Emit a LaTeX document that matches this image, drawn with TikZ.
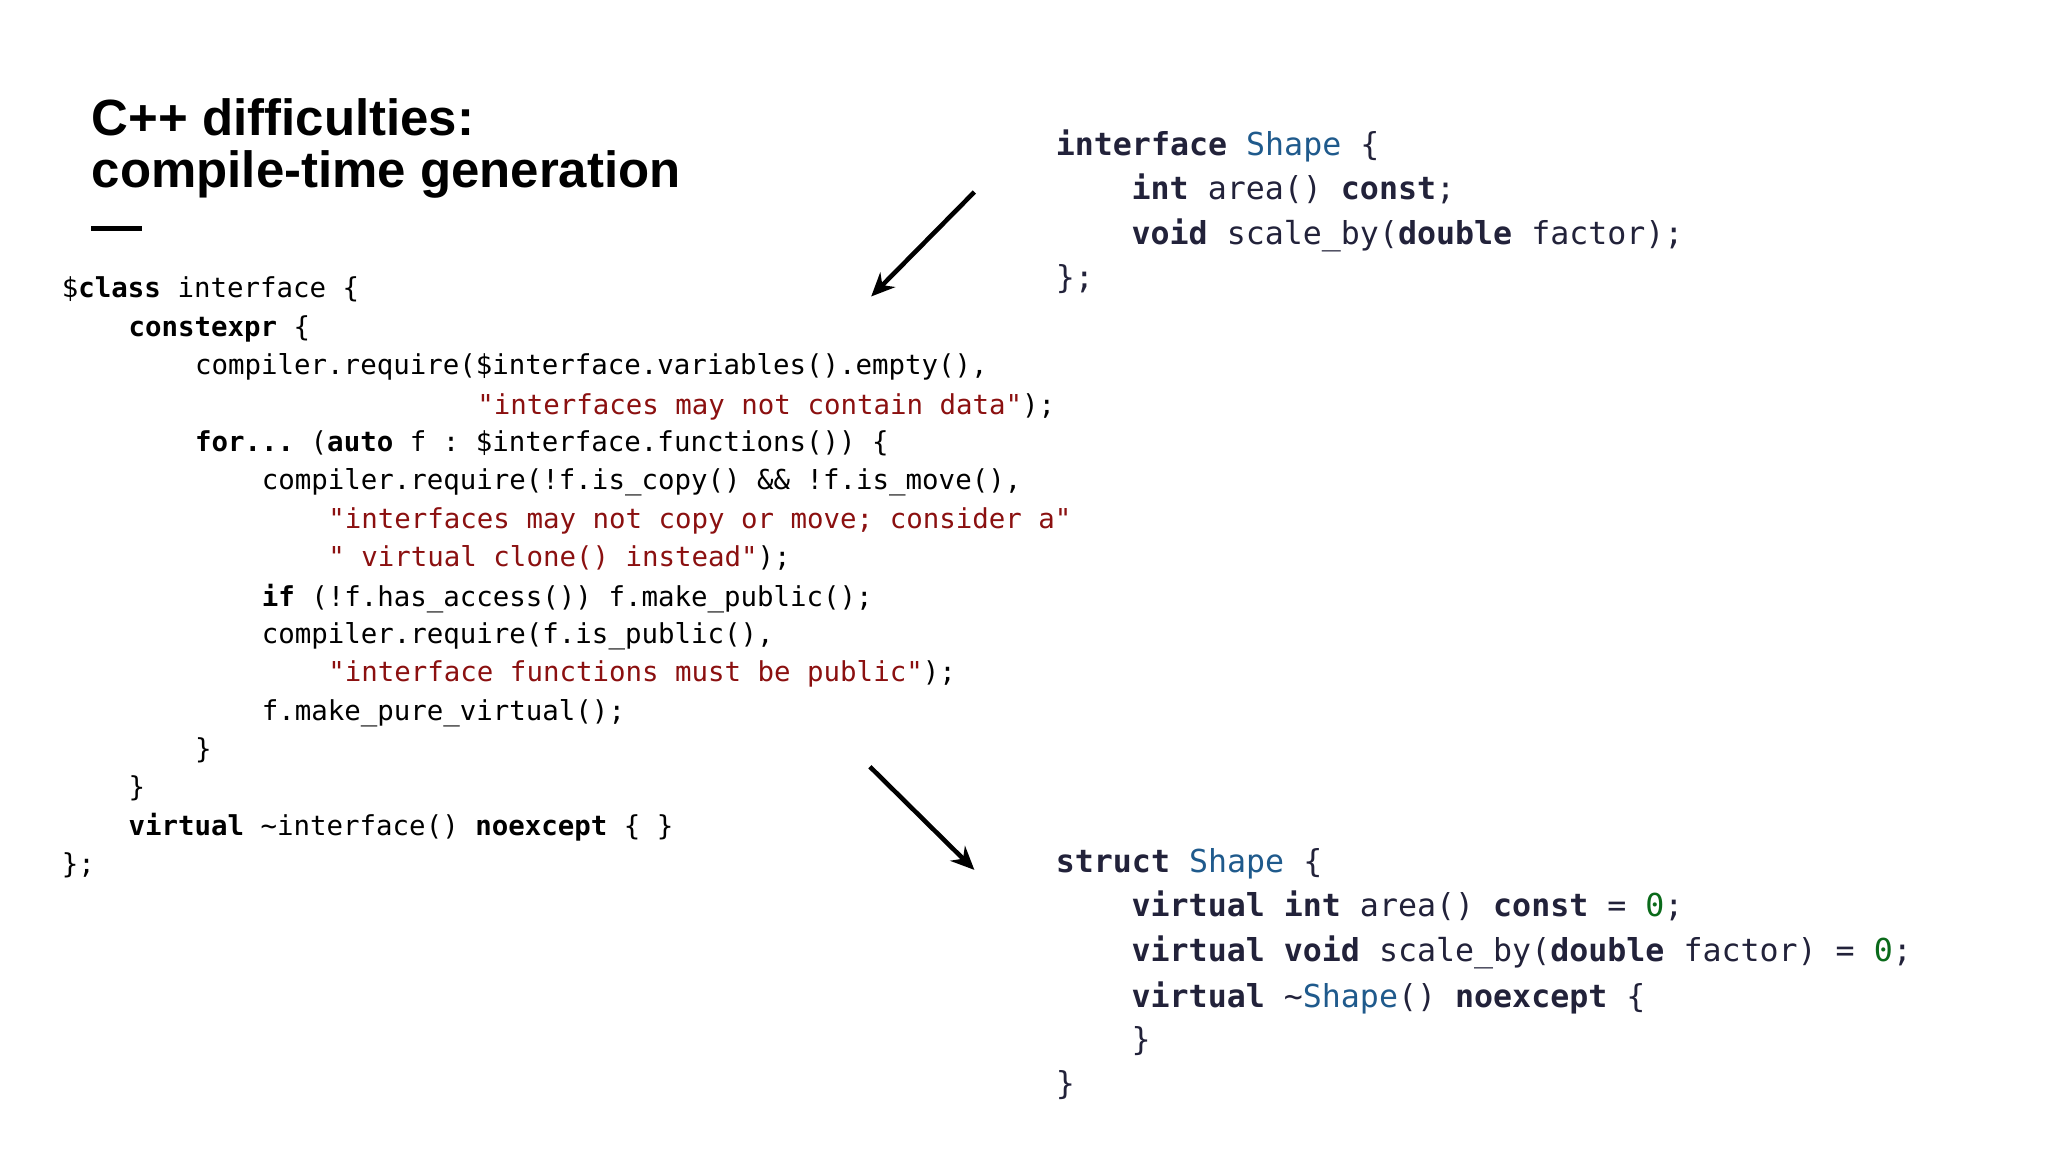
\documentclass[tikz,border=0pt]{standalone}
\usepackage{fontspec}
\setmainfont{Liberation Sans}
\setmonofont{DejaVu Sans Mono}
\usetikzlibrary{arrows.meta}
\definecolor{str}{HTML}{8B1010}
\definecolor{nav}{HTML}{22223A}
\definecolor{shp}{HTML}{1F5A8C}
\definecolor{num}{HTML}{0A6A1A}
\newcommand\kw[1]{\textbf{#1}}
\newcommand\st[1]{\textcolor{str}{#1}}
\newcommand\sh{\textcolor{shp}{Shape}}
\newcommand\zr{\textcolor{num}{0}}
\newcommand\tld{\textasciitilde}
\tikzset{
 lc/.style={anchor=base west,inner sep=0pt,font=\ttfamily\fontsize{10.5}{12}\selectfont},
 rc/.style={anchor=base west,inner sep=0pt,text=nav,font=\ttfamily\fontsize{12.1}{14}\selectfont},
 arr/.style={line width=1.75pt,-{Stealth[length=9pt,width=8pt]}}
}
\begin{document}
\begin{tikzpicture}[x=0.5pt,y=-0.5pt]
\useasboundingbox (0,0) rectangle (1568,882);
\node[anchor=north west,inner sep=0pt,align=left,font=\bfseries\fontsize{19.5}{20}\selectfont] (title) at (70,75) {C++ difficulties:\\compile-time generation};
\draw[line width=2pt] (70,175) -- (109,175);
% left block
\node[lc] (l1) at (47,228) {\$\kw{class} interface \{};
\node[lc] (l2) at (98,258) {\kw{constexpr} \{};
\node[lc] (l3) at (149,287) {compiler.require(\$interface.variables().empty(),};
\node[lc] (l4) at (365,317) {\st{"interfaces may not contain data"});};
\node[lc] (l5) at (149,346) {\kw{for...} (\kw{auto} f : \$interface.functions()) \{};
\node[lc] (l6) at (200,375) {compiler.require(!f.is\_copy() \&\& !f.is\_move(),};
\node[lc] (l7) at (251,405) {\st{"interfaces may not copy or move; consider a"}};
\node[lc] (l8) at (251,434) {\st{" virtual clone() instead"});};
\node[lc] (l9) at (200,464) {\kw{if} (!f.has\_access()) f.make\_public();};
\node[lc] (l10) at (200,493) {compiler.require(f.is\_public(),};
\node[lc] (l11) at (251,522) {\st{"interface functions must be public"});};
\node[lc] (l12) at (200,552) {f.make\_pure\_virtual();};
\node[lc] (l13) at (149,581) {\}};
\node[lc] (l14) at (98,610) {\}};
\node[lc] (l15) at (98,640) {\kw{virtual} \tld interface() \kw{noexcept} \{ \}};
\node[lc] (l16) at (47,669) {\};};
% right top
\node[rc] (r1) at (808,119) {\kw{interface} \sh{} \{};
\node[rc] (r2) at (866,153) {\kw{int} area() \kw{const};};
\node[rc] (r3) at (866,187) {\kw{void} scale\_by(\kw{double} factor);};
\node[rc] (r4) at (808,221) {\};};
% right bottom
\node[rc] (b1) at (808,668) {\kw{struct} \sh{} \{};
\node[rc] (b2) at (866,702) {\kw{virtual} \kw{int} area() \kw{const} = \zr;};
\node[rc] (b3) at (866,736) {\kw{virtual} \kw{void} scale\_by(\kw{double} factor) = \zr;};
\node[rc] (b4) at (866,771) {\kw{virtual} \tld\sh() \kw{noexcept} \{};
\node[rc] (b5) at (866,804) {\}};
\node[rc] (b6) at (808,838) {\}};
% arrows
\coordinate (a1s) at (746,147); \coordinate (a1e) at (667,227);
\coordinate (a2s) at (666,587); \coordinate (a2e) at (746,666);
\draw[arr] (a1s) -- (a1e);
\draw[arr] (a2s) -- (a2e);
\end{tikzpicture}
\end{document}
